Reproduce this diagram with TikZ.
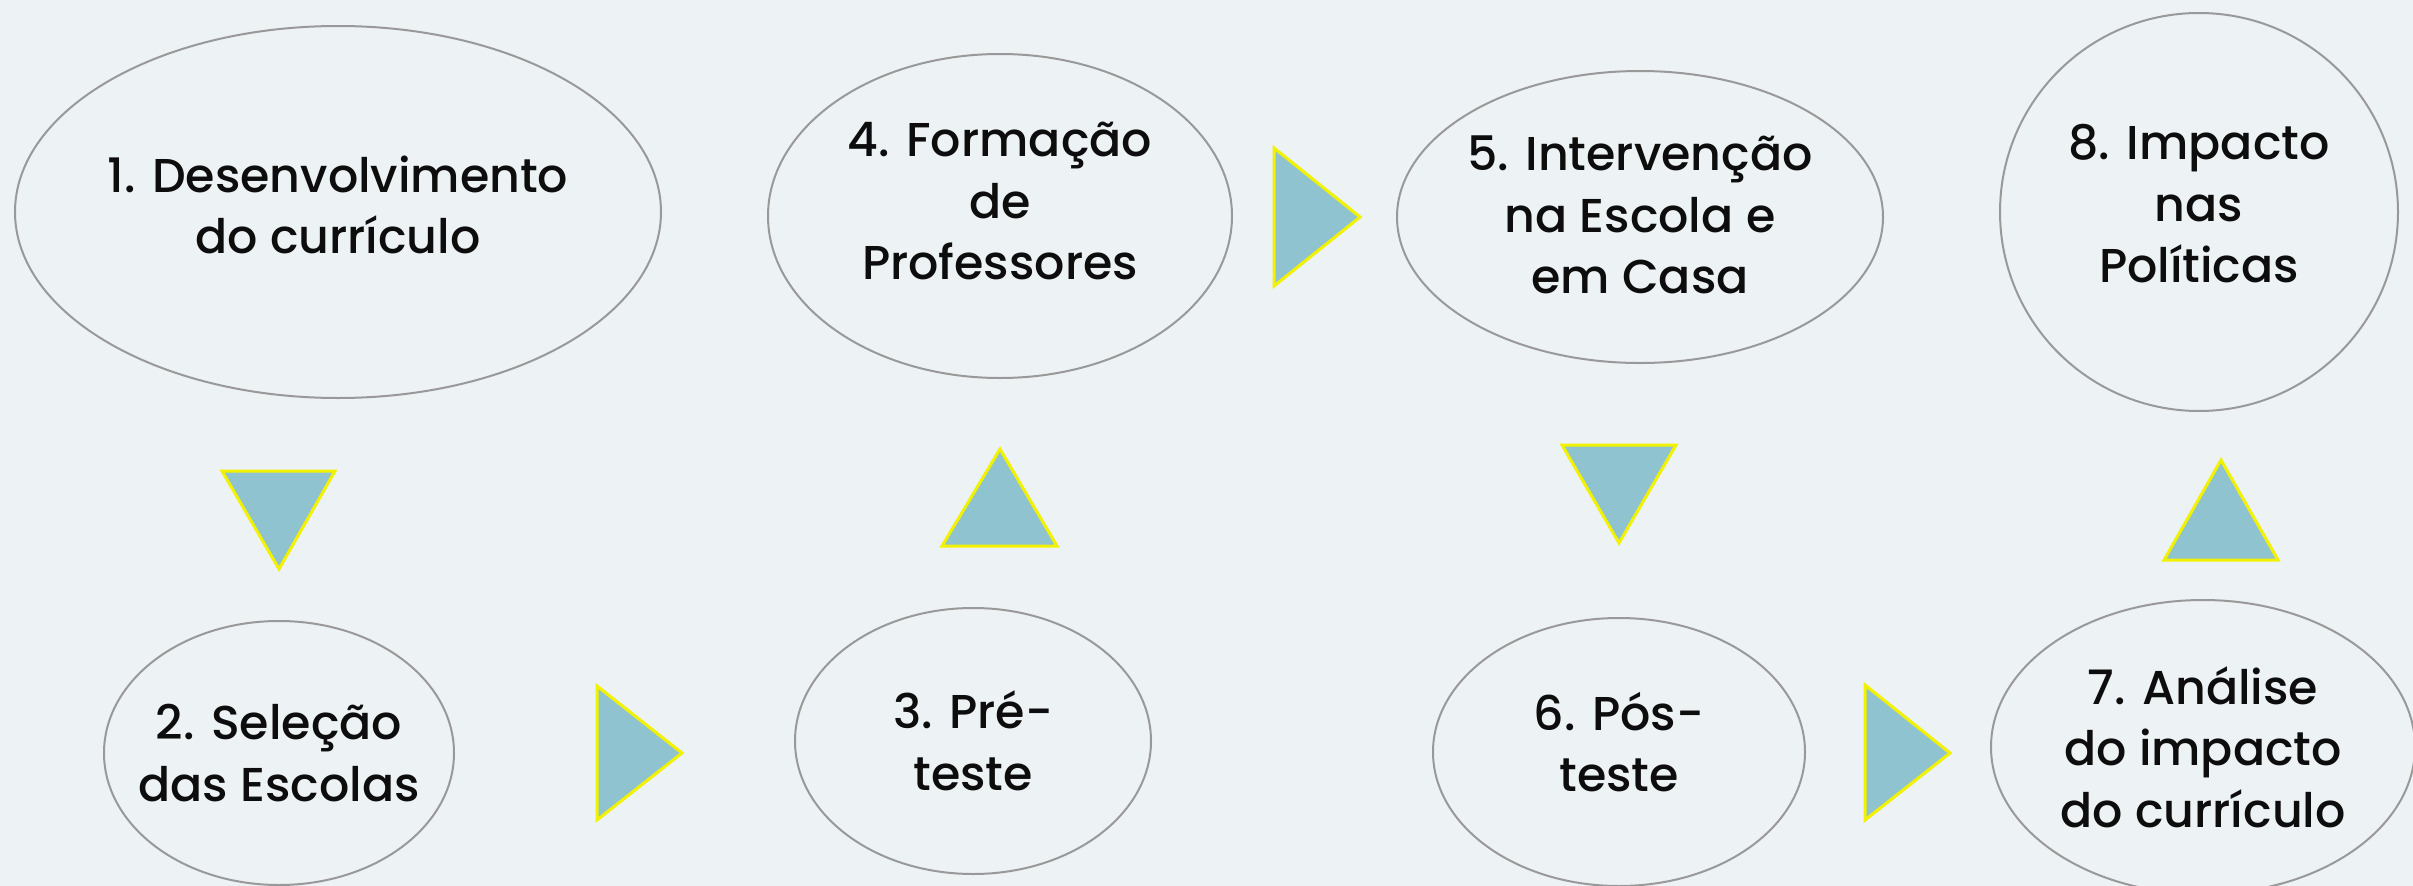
\documentclass[tikz,border=0pt]{standalone}
\usepackage{fontspec}
\setmainfont{Poppins Medium}
\usepackage{tikz}
\usetikzlibrary{shapes.geometric,positioning}
\definecolor{bgcol}{HTML}{EDF2F5}
\definecolor{arrowfill}{HTML}{8EC3CF}
\definecolor{edgegray}{HTML}{999999}
\definecolor{arrowline}{HTML}{F2F200}

\begin{document}
\begin{tikzpicture}[x=1pt, y=-1pt,
    stage/.style 2 args = {draw=edgegray, line width=2pt, ellipse, inner sep=0pt,
      minimum width=#1, minimum height=#2},
    txt/.style = {align=center, inner sep=0pt, text=black!95,
      font=\fontsize{47.5}{61.5}\selectfont},
    tri/.style = {fill=arrowfill, draw=arrowline, line width=3pt, line join=miter}
    ]
    \useasboundingbox (0,0) rectangle (2413,886);
    \fill[bgcol] (0,0) rectangle (2413,886);

    \node[stage={646}{372}] (1) at (338,212) {};
    \node[stage={350}{264}] (2) at (279,753) {};
    \node[stage={356}{266}] (3) at (973,741) {};
    \node[stage={464}{324}] (4) at (1000,216) {};
    \node[stage={486}{292}] (5) at (1640,217) {};
    \node[stage={372}{268}] (6) at (1619,752) {};
    \node[stage={424}{294}] (7) at (2203,747) {};
    \node[stage={398}{398}] (8) at (2199,212) {};

    \node[txt] (1t) at ([yshift=7pt]1.center) {1. Desenvolvimento\\do currículo};
    \node[txt] (2t) at (2.center) {2. Seleção\\das Escolas};
    \node[txt] (3t) at (3.center) {3. Pré-\\teste};
    \node[txt] (4t) at ([yshift=15pt]4.center) {4. Formação\\de\\Professores};
    \node[txt] (5t) at ([yshift=2pt]5.center) {5. Intervenção\\na Escola e\\em Casa};
    \node[txt] (6t) at ([yshift=10pt]6.center) {6. Pós-\\teste};
    \node[txt] (7t) at (7.center) {7. Análise\\do impacto\\do currículo};
    \node[txt] (8t) at ([yshift=8pt]8.center) {8. Impacto\\nas\\Políticas};

    % arrows between the stages
    \draw[tri] (222,471) -- (335,471) -- (279,569) -- cycle;
    \draw[tri] (597,686) -- (682,753) -- (597,820) -- cycle;
    \draw[tri] (942,546) -- (1057,546) -- (1000,449) -- cycle;
    \draw[tri] (1274,148) -- (1360,217) -- (1274,286) -- cycle;
    \draw[tri] (1562,445) -- (1676,445) -- (1619,543) -- cycle;
    \draw[tri] (1865,685) -- (1950,753) -- (1865,820) -- cycle;
    \draw[tri] (2164,560) -- (2278,560) -- (2221,460) -- cycle;
\end{tikzpicture}
\end{document}
